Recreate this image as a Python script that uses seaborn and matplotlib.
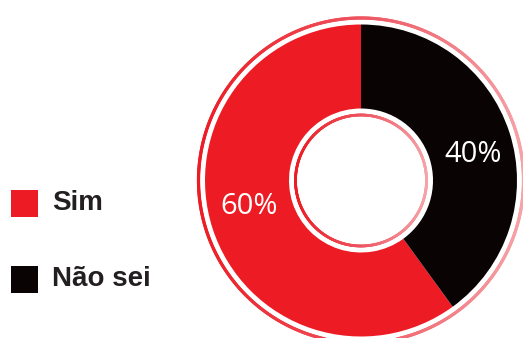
import numpy as np
import matplotlib
matplotlib.use("Agg")
import matplotlib.pyplot as plt
from matplotlib.collections import LineCollection
from matplotlib.colors import LinearSegmentedColormap
import seaborn as sns

categories = ["Sim", "Não sei"]
values = [60, 40]
labels = ["60%", "40%"]
colors = ["#ED1C24", "#0A0304"]

sns.set_theme(style="white")
plt.rcParams["font.family"] = ["Liberation Sans", "DejaVu Sans"]

W, H = 523, 338
fig = plt.figure(figsize=(W / 100, H / 100), dpi=100)
ax = fig.add_axes([0, 0, 1, 1])
ax.set_xlim(0, W)
ax.set_ylim(0, H)
ax.set_aspect("equal")
ax.axis("off")

cx, cy = 361, H - 180.5
r_out, r_hole = 156, 72

wedges, _ = ax.pie(values, colors=colors, startangle=90, counterclock=True,
                   radius=r_out, center=(cx, cy),
                   wedgeprops=dict(width=r_out - r_hole, linewidth=0))
ax.set_xlim(0, W)
ax.set_ylim(0, H)

# percentage labels inside each wedge, nudged slightly clockwise
for w, lab in zip(wedges, labels):
    mid = np.deg2rad((w.theta1 + w.theta2) / 2 - 5)
    rr = 115
    ax.text(cx + rr * np.cos(mid), cy + rr * np.sin(mid), lab,
            color="white", fontsize=21, family=["Open Sans", "DejaVu Sans"],
            ha="center", va="center")

# decorative rings with a red-to-pink horizontal gradient
ring_cmap = LinearSegmentedColormap.from_list("ring", ["#ED1C24", "#EE5560", "#F6A3A8"])


def gradient_ring(radius, lw):
    t = np.linspace(0, 2 * np.pi, 721)
    x = cx + radius * np.cos(t)
    y = cy + radius * np.sin(t)
    pts = np.column_stack([x, y]).reshape(-1, 1, 2)
    segs = np.concatenate([pts[:-1], pts[1:]], axis=1)
    shade = (np.cos((t[:-1] + t[1:]) / 2) + 1) / 2
    lc = LineCollection(segs, colors=ring_cmap(shade), linewidths=lw,
                        capstyle="round")
    ax.add_collection(lc)


gradient_ring(162.5, 2.3)
gradient_ring(65.5, 2.0)

# legend squares and labels
legend_y = [H - 203.5, H - 279.5]
for cat, col, yy in zip(categories, colors, legend_y):
    ax.add_patch(plt.Rectangle((10.5, yy - 13.5), 27, 27, color=col, lw=0))
    ax.text(52, yy, cat, fontsize=20, fontweight="bold", color="#231F20",
            ha="left", va="center")

fig.savefig("out.png", dpi=100)
